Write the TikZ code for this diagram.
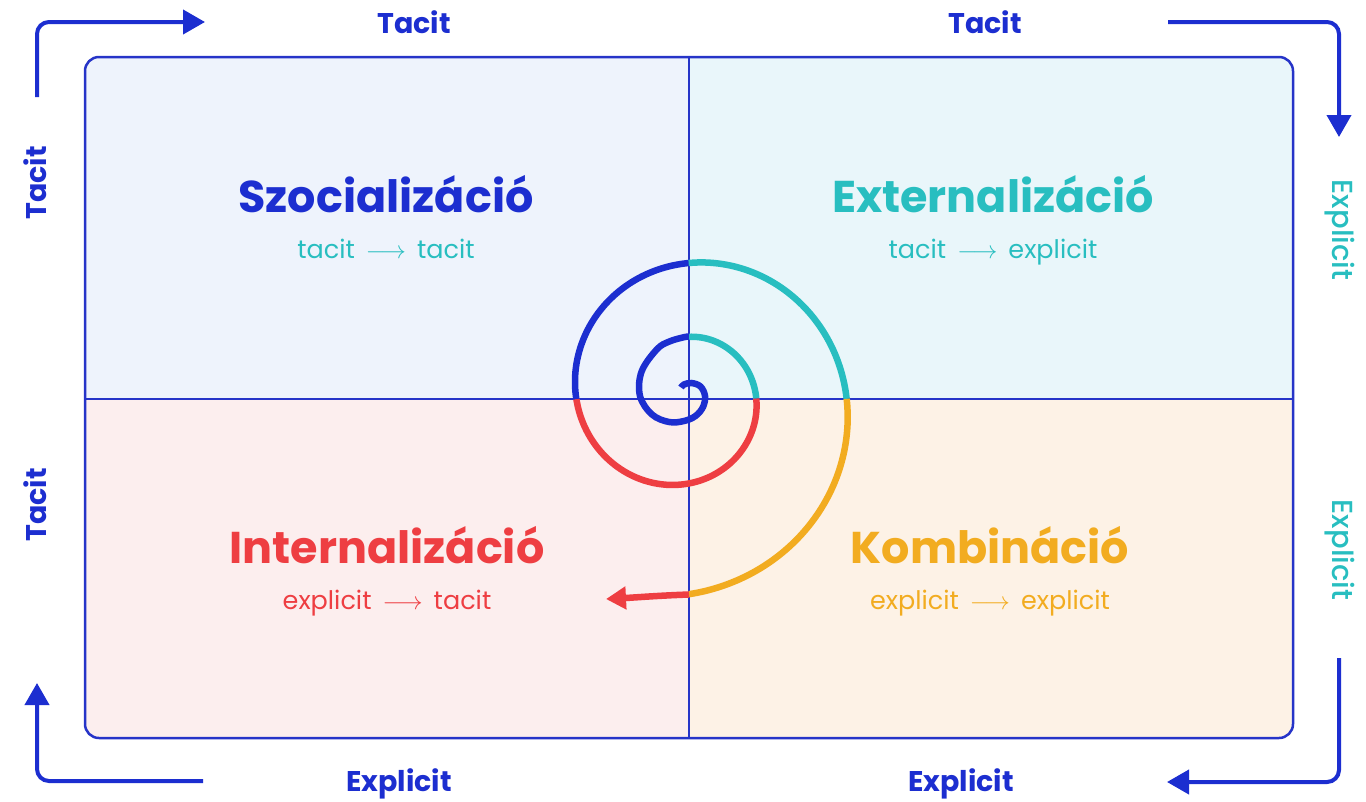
\documentclass[tikz,border=0pt]{standalone}
\usepackage{fontspec}
\setmainfont{Poppins}
\newfontfamily\pmed{Poppins Medium}
\usetikzlibrary{arrows.meta}
\definecolor{dblue}{RGB}{28,46,208}
\definecolor{bord}{RGB}{38,52,200}
\definecolor{tealc}{RGB}{40,190,192}
\definecolor{redc}{RGB}{238,62,66}
\definecolor{yelc}{RGB}{242,172,32}
\definecolor{fTL}{RGB}{238,243,252}
\definecolor{fTR}{RGB}{233,246,250}
\definecolor{fBL}{RGB}{252,238,238}
\definecolor{fBR}{RGB}{253,242,230}
\newcommand{\myarr}{\,$\longrightarrow$\,}
\tikzset{
  titlefont/.style={font=\fontsize{44.5}{50}\selectfont\bfseries, inner sep=0pt, anchor=base},
  subfont/.style={font=\fontsize{25.5}{30}\selectfont, inner sep=0pt, anchor=base},
  sidelab/.style={font=\fontsize{28.5}{32}\selectfont\bfseries, text=dblue, inner sep=0pt},
  sidelabr/.style={font=\pmed\fontsize{29}{32}\selectfont, text=tealc, inner sep=0pt},
  flow/.style={draw=dblue, line width=4pt, rounded corners=12pt, -{Triangle[length=22pt,width=24pt]}},
  spir/.style={line width=6.5pt},
  logsp/.style={spir, variable=\t, samples=40, smooth}
}
\newcommand{\lx}[1]{{684+72*exp(0.0022515*(#1))*cos(#1)}}
\newcommand{\ly}[1]{{-396-72*exp(0.0022515*(#1))*sin(#1)}}
\begin{document}
\begin{tikzpicture}[x=1pt,y=1pt]
\useasboundingbox (0,0) rectangle (1366,-801);
\fill[white] (0,0) rectangle (1366,-801);
% quadrant fills
\begin{scope}
\clip[rounded corners=14pt] (85,-57) rectangle (1293,-738);
\fill[fTL] (85,-57) rectangle (689,-399);
\fill[fTR] (689,-57) rectangle (1293,-399);
\fill[fBL] (85,-399) rectangle (689,-738);
\fill[fBR] (689,-399) rectangle (1293,-738);
\end{scope}
\draw[bord, line width=2pt] (689,-57) -- (689,-738);
\draw[bord, line width=2pt] (85,-399) -- (1293,-399);
\draw[bord, line width=2.5pt, rounded corners=14pt] (85,-57) rectangle (1293,-738);
% spiral: inner curl
\draw[spir, dblue] plot[smooth, tension=0.6] coordinates {
  (681,-387.5) (684,-384.5) (691.5,-383) (700.5,-386.5) (705,-396) (703,-407)
  (695.5,-416) (684,-421) (669,-422) (652,-414.5) (640,-396) (641.6,-371.5)
  (657,-349.2) (669.4,-341.5) (684,-337.2) (689.5,-336.5)};
% spiral: logarithmic part
\draw[logsp, tealc] plot[domain=-85:2] ({684+72*exp(0.0022515*\t)*cos(\t)}, {-396-72*exp(0.0022515*\t)*sin(\t)});
\draw[logsp, redc] plot[domain=2:178.4] ({684+72*exp(0.0022515*\t)*cos(\t)}, {-396-72*exp(0.0022515*\t)*sin(\t)});
\draw[logsp, dblue] plot[domain=178.4:272] ({684+72*exp(0.0022515*\t)*cos(\t)}, {-396-72*exp(0.0022515*\t)*sin(\t)});
\draw[logsp, tealc] plot[domain=272:361] ({684+72*exp(0.0022515*\t)*cos(\t)}, {-396-72*exp(0.0022515*\t)*sin(\t)});
\draw[logsp, yelc] plot[domain=361:448.6] ({684+72*exp(0.0022515*\t)*cos(\t)}, {-396-72*exp(0.0022515*\t)*sin(\t)});
\coordinate (spend) at (689,-594.5);
\coordinate (sptip) at (606,-599);
\draw[spir, redc, -{Triangle[length=20pt,width=22pt]}] (spend) .. controls (660,-595.5) and (635,-597.5) .. (sptip);
% titles
\node[titlefont, text=dblue] (szoc) at (386,-212) {Szocializáció};
\node[subfont, text=tealc] (szocs) at (386,-258) {tacit \myarr{} tacit};
\node[titlefont, text=tealc] (ext) at (993,-212) {Externalizáció};
\node[subfont, text=tealc] (exts) at (993,-258) {tacit \myarr{} explicit};
\node[titlefont, text=redc] (int) at (387,-563) {Internalizáció};
\node[subfont, text=redc] (ints) at (387,-609) {explicit \myarr{} tacit};
\node[titlefont, text=yelc] (komb) at (990,-563) {Kombináció};
\node[subfont, text=yelc] (kombs) at (990,-609) {explicit \myarr{} explicit};
% side labels
\node[sidelab] (tt1) at (414,-22) {Tacit};
\node[sidelab] (tt2) at (985,-22) {Tacit};
\node[sidelab, anchor=base] (bb1) at (399,-791) {Explicit};
\node[sidelab, anchor=base] (bb2) at (961,-791) {Explicit};
\node[sidelab, rotate=90] (ll1) at (35,-183) {Tacit};
\node[sidelab, rotate=90] (ll2) at (35,-505) {Tacit};
\node[sidelabr, rotate=-90] (rr1) at (1340,-230) {Explicit};
\node[sidelabr, rotate=-90] (rr2) at (1340,-550) {Explicit};
% corner arrows
\coordinate (a1s) at (37,-97);
\coordinate (a1e) at (205,-22);
\coordinate (a2s) at (1168,-22);
\coordinate (a2e) at (1339,-137);
\coordinate (a3s) at (1339,-658);
\coordinate (a3e) at (1167,-782);
\coordinate (a4s) at (203,-781);
\coordinate (a4e) at (37,-683);
\draw[flow] (a1s) |- (a1e);
\draw[flow] (a2s) -| (a2e);
\draw[flow] (a3s) |- (a3e);
\draw[flow] (a4s) -| (a4e);
\end{tikzpicture}
\end{document}
